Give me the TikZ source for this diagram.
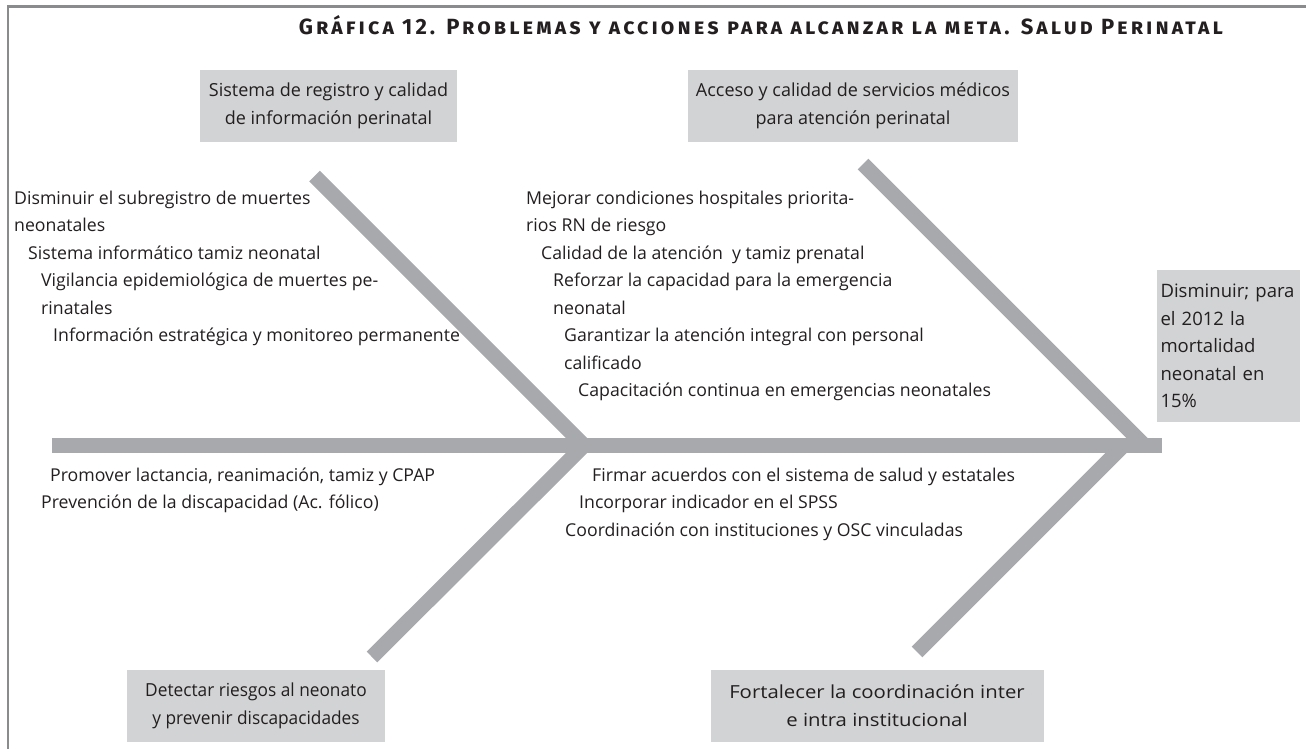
\documentclass[tikz,border=0pt]{standalone}
\usepackage{fontspec}
\setmainfont{Open Sans}
\newfontfamily\titlefont{Fira Sans}
\newfontfamily\narrowfont{Open Sans}[FakeStretch=0.96]
\newfontfamily\widefont{Open Sans}[FakeStretch=1.13]
\definecolor{bonegray}{HTML}{A7A9AC}
\definecolor{boxgray}{HTML}{D1D3D4}
\definecolor{framegray}{HTML}{8A8B8D}
\definecolor{inkblack}{HTML}{231F20}
\tikzset{
  bone/.style={line width=15pt, draw=bonegray},
  causebox/.style={fill=boxgray, inner sep=0pt, minimum height=72pt, align=center,
    text=inkblack, font=\fontsize{18}{28}\selectfont},
  item/.style={anchor=base west, align=left, inner sep=0pt, text=inkblack,
    font=\fontsize{17.7}{27.5}\selectfont},
}
\begin{document}
\begin{tikzpicture}[x=1pt, y=-1pt]
    \useasboundingbox (0,0) rectangle (1306,749);

    % 1. Marco y titulo
    \draw[framegray, line width=2.5pt] (8,749) -- (8,6.5) -- (1306,6.5);
    \node[anchor=base east, inner sep=0pt, text=inkblack] (titulo) at (1223,35)
        {\titlefont\fontsize{22}{22}\selectfont\bfseries\scshape\addfontfeatures{LetterSpace=14}Gráfica 12. Problemas y acciones para alcanzar la meta. Salud Perinatal};

    % 2. Espina y huesos del diagrama
    \coordinate (cola) at (52,445.5);
    \coordinate (cabeza) at (1162,445.5);
    \coordinate (nudoA) at (584,445.5);
    \coordinate (nudoB) at (1144.5,445.5);
    \coordinate (nudoC) at (1123.5,445.5);
    \coordinate (puntaA) at (314.5,176);
    \coordinate (puntaB) at (863,164);
    \coordinate (puntaC) at (372,657);
    \coordinate (puntaD) at (917,652);
    \draw[bone] (cola) -- (cabeza);
    \draw[bone] (puntaA) -- (nudoA);
    \draw[bone] (puntaC) -- (nudoA);
    \draw[bone] (puntaB) -- (nudoB);
    \draw[bone] (puntaD) -- (nudoC);

    % 3. Cajas de problemas y meta
    \node[causebox, minimum width=257pt] (registro) at (328.5,106)
        {Sistema de registro y calidad\\de información perinatal};
    \node[causebox, minimum width=330pt] (acceso) at (853,106)
        {Acceso y calidad de servicios médicos\\para atención perinatal};
    \node[causebox, minimum width=258pt, font=\narrowfont\fontsize{18}{28}\selectfont] (riesgos) at (256,706)
        {Detectar riesgos al neonato\\y prevenir discapacidades};
    \node[causebox, minimum width=333pt, font=\widefont\fontsize{18}{28}\selectfont] (coordinacion) at (877,706)
        {Fortalecer la coordinación inter\\e intra institucional};
    \node[causebox, minimum width=143pt, minimum height=152pt, align=left,
        text width=136pt, font=\fontsize{18.5}{27.5}\selectfont] (meta) at (1228.5,346)
        {Disminuir; para\\el 2012 la\\mortalidad\\neonatal en\\15\%};

    % 4. Acciones de cada hueso (el punto es la linea base de la ultima linea)
    \node[item] (a1) at (14,231.5) {Disminuir el subregistro de muertes\\neonatales};
    \node[item] (a2) at (28,259) {Sistema informático tamiz neonatal};
    \node[item] (a3) at (41,314) {Vigilancia epidemiológica de muertes pe-\\rinatales};
    \node[item] (a4) at (53,341.5) {Información estratégica y monitoreo permanente};

    \node[item] (b1) at (526,231.5) {Mejorar condiciones hospitales priorita-\\rios RN de riesgo};
    \node[item] (b2) at (541,259) {Calidad de la atención~ y tamiz prenatal};
    \node[item] (b3) at (553,314) {Reforzar la capacidad para la emergencia\\neonatal};
    \node[item] (b4) at (564,369) {Garantizar la atención integral con personal\\calificado};
    \node[item] (b5) at (578,396.5) {Capacitación continua en emergencias neonatales};

    \node[item] (c1) at (50,481) {Promover lactancia, reanimación, tamiz y CPAP};
    \node[item] (c2) at (41,508.5) {Prevención de la discapacidad (Ac. fólico)};

    \node[item] (d1) at (592,481) {Firmar acuerdos con el sistema de salud y estatales};
    \node[item] (d2) at (579,508.5) {Incorporar indicador en el SPSS};
    \node[item] (d3) at (565,536) {Coordinación con instituciones y OSC vinculadas};

\end{tikzpicture}
\end{document}
